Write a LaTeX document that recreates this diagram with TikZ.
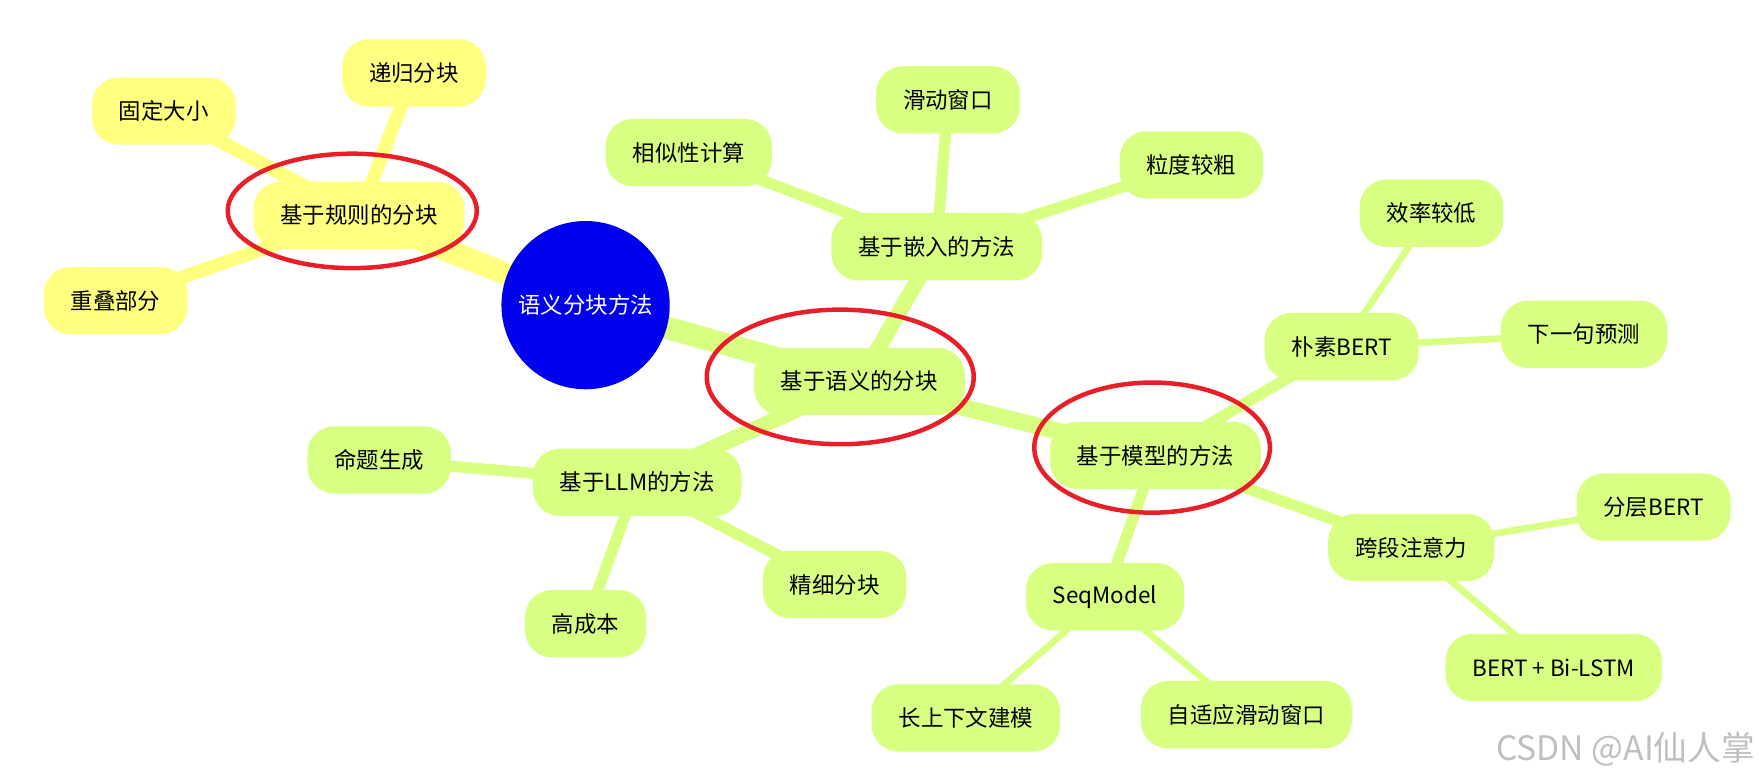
\documentclass[tikz,border=0pt]{standalone}
\usepackage{fontspec}
\setmainfont{Noto Sans CJK SC}
\usetikzlibrary{backgrounds}

\definecolor{rootblue}{RGB}{0,0,238}
\definecolor{ruleyellow}{RGB}{255,255,128}
\definecolor{semgreen}{RGB}{216,255,130}
\definecolor{ringred}{RGB}{232,30,40}

\begin{document}
\begin{tikzpicture}[x=1pt,y=-1pt]

                \tikzset{root/.style = {shape=circle,fill=rootblue,text=white,minimum size=150pt,inner sep=0pt,font=\fontsize{20}{24}\selectfont}}
                \tikzset{box/.style = {shape=rectangle,rounded corners=24pt,minimum height=60pt,inner xsep=24pt,font=\fontsize{20}{24}\selectfont}}
                \tikzset{ybox/.style = {box,fill=ruleyellow}}
                \tikzset{gbox/.style = {box,fill=semgreen}}
                \tikzset{edge/.style = {line width=#1}}
                \tikzset{ring/.style = {draw=ringred,line width=4pt}}
                \useasboundingbox (0,0) rectangle (1568,693);

                \node[root] (root) at (522, 272) {语义分块方法};

                \node[ybox] (rule) at (320, 192) {基于规则的分块};
                \node[ybox] (recur) at (369, 65) {递归分块};
                \node[ybox] (fixed) at (146, 99) {固定大小};
                \node[ybox] (overlap) at (103, 268) {重叠部分};

                \node[gbox] (sem) at (766, 340) {基于语义的分块};
                \node[gbox] (embed) at (835, 220) {基于嵌入的方法};
                \node[gbox] (simil) at (614, 136) {相似性计算};
                \node[gbox] (window) at (845, 89) {滑动窗口};
                \node[gbox] (coarse) at (1062, 147) {粒度较粗};

                \node[gbox] (llm) at (568, 430) {基于LLM的方法};
                \node[gbox] (prop) at (338, 410) {命题生成};
                \node[gbox] (fine) at (744, 521) {精细分块};
                \node[gbox] (cost) at (522, 556) {高成本};

                \node[gbox] (model) at (1030, 406) {基于模型的方法};
                \node[gbox] (bert) at (1196, 309) {朴素BERT};
                \node[gbox] (slow) at (1276, 190) {效率较低};
                \node[gbox] (next) at (1412, 298) {下一句预测};
                \node[gbox] (seq) at (985, 532) {SeqModel};
                \node[gbox] (long) at (861, 640) {长上下文建模};
                \node[gbox] (adapt) at (1111, 637) {自适应滑动窗口};
                \node[gbox] (cross) at (1258, 488) {跨段注意力};
                \node[gbox] (layer) at (1474, 452) {分层BERT};
                \node[gbox] (bilstm) at (1385, 595) {BERT + Bi-LSTM};

                \begin{scope}[on background layer]
                \draw[edge=20pt,ruleyellow] (root.center) -- (rule.center);
                \draw[edge=12pt,ruleyellow] (rule.center) -- (recur.center);
                \draw[edge=12pt,ruleyellow] (rule.center) -- (fixed.center);
                \draw[edge=12pt,ruleyellow] (rule.center) -- (overlap.center);

                \draw[edge=20pt,semgreen] (root.center) -- (sem.center);
                \draw[edge=14pt,semgreen] (sem.center) -- (embed.center);
                \draw[edge=14pt,semgreen] (sem.center) -- (llm.center);
                \draw[edge=15pt,semgreen] (sem.center) -- (model.center);

                \draw[edge=10pt,semgreen] (embed.center) -- (simil.center);
                \draw[edge=10pt,semgreen] (embed.center) -- (window.center);
                \draw[edge=10pt,semgreen] (embed.center) -- (coarse.center);

                \draw[edge=10pt,semgreen] (llm.center) -- (prop.center);
                \draw[edge=10pt,semgreen] (llm.center) -- (fine.center);
                \draw[edge=10pt,semgreen] (llm.center) -- (cost.center);

                \draw[edge=10pt,semgreen] (model.center) -- (bert.center);
                \draw[edge=10pt,semgreen] (model.center) -- (seq.center);
                \draw[edge=10pt,semgreen] (model.center) -- (cross.center);

                \draw[edge=6pt,semgreen] (bert.center) -- (slow.center);
                \draw[edge=6pt,semgreen] (bert.center) -- (next.center);
                \draw[edge=6pt,semgreen] (seq.center) -- (long.center);
                \draw[edge=6pt,semgreen] (seq.center) -- (adapt.center);
                \draw[edge=6pt,semgreen] (cross.center) -- (layer.center);
                \draw[edge=6pt,semgreen] (cross.center) -- (bilstm.center);
                \end{scope}

                \draw[ring] (rule.center) ++(-6,-4) ellipse [x radius=111pt, y radius=51pt];
                \draw[ring] (sem.center) ++(-17,-4) ellipse [x radius=119pt, y radius=60pt];
                \draw[ring] (model.center) ++(-3,-7) ellipse [x radius=105pt, y radius=58pt];

                \node[text=gray!50,font=\fontsize{30}{34}\selectfont] (mark) at (1449, 668) {CSDN @AI仙人掌};
\end{tikzpicture}
\end{document}
